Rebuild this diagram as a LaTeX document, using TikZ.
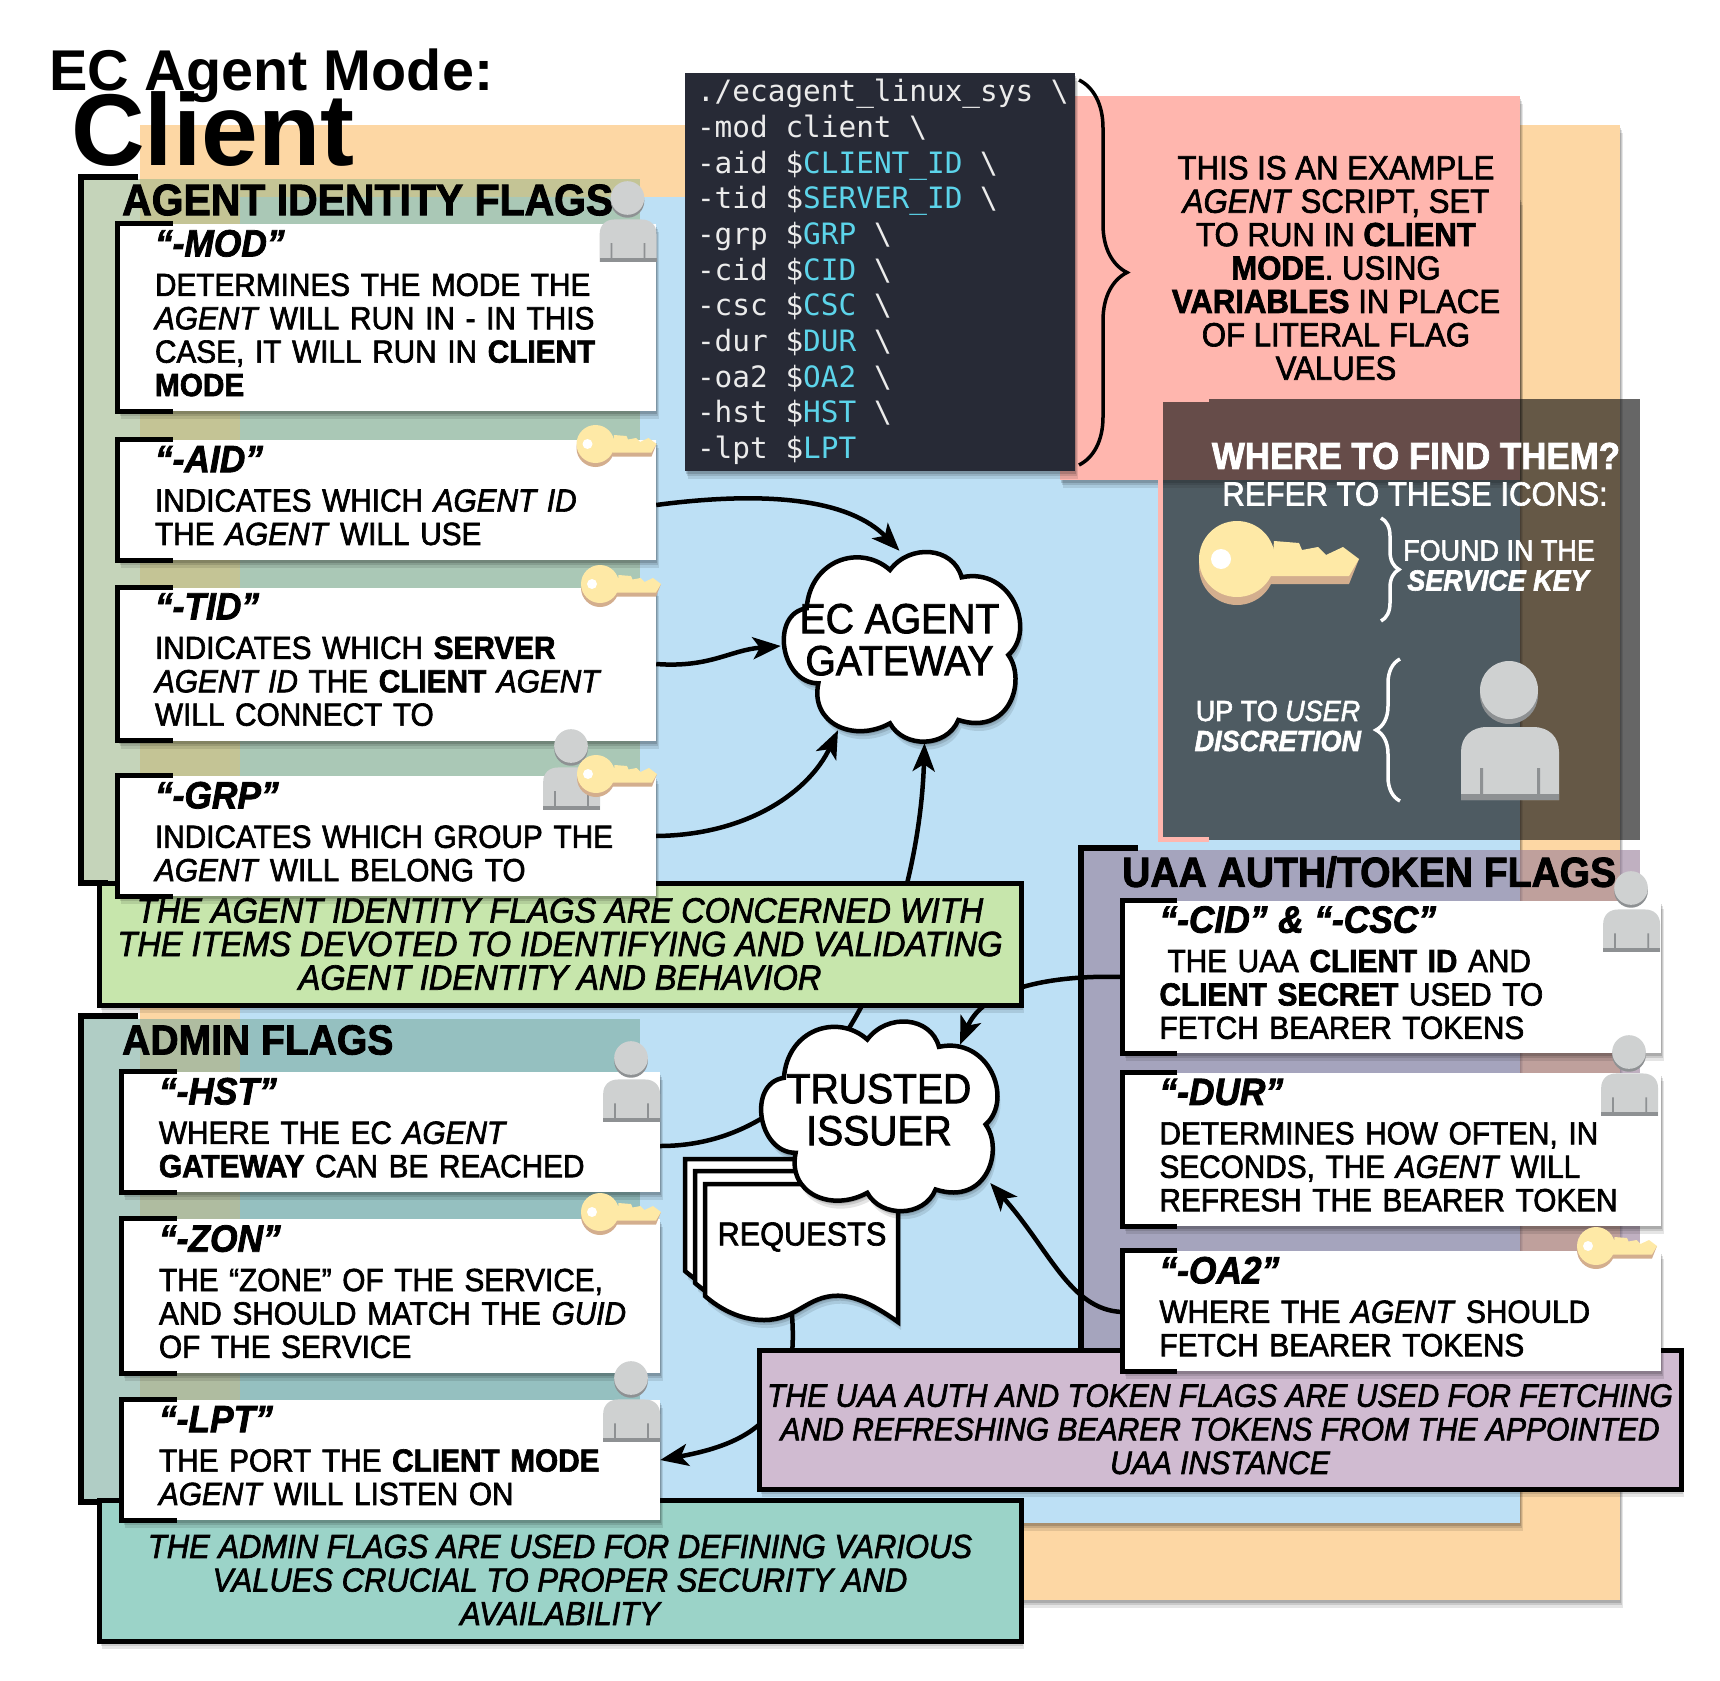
\documentclass[tikz,border=0pt]{standalone}
\usepackage{fontspec}
\usetikzlibrary{calc,arrows.meta,decorations.pathreplacing,shadows}
\newfontfamily\titlefont{Liberation Sans}
\newfontfamily\comicfont[FakeStretch=0.93,FakeBold=2]{Liberation Sans}
\newfontfamily\codefont{DejaVu Sans Mono}
\definecolor{orangebg}{HTML}{FDD7A4}
\definecolor{bluebg}{HTML}{BDE0F5}
\definecolor{pinkbg}{HTML}{FFB6AE}
\definecolor{codebg}{HTML}{272A36}
\definecolor{codecyan}{HTML}{5CD4EA}
\definecolor{agentfill}{HTML}{9EB88C}
\definecolor{adminfill}{HTML}{7BAB9E}
\definecolor{uaafill}{HTML}{967C98}
\definecolor{agentnote}{HTML}{C7E6AC}
\definecolor{adminnote}{HTML}{9BD3C8}
\definecolor{uaanote}{HTML}{D0BBD1}
\definecolor{keyface}{HTML}{FEE9A6}
\definecolor{keyside}{HTML}{D3AE8E}
\definecolor{userface}{HTML}{CFD1D1}
\definecolor{userside}{HTML}{8E9193}
\pgfdeclarelayer{panels}
\pgfdeclarelayer{wires}
\pgfsetlayers{panels,wires,main}
\tikzset{softshadow/.style={drop shadow={shadow xshift=3pt,shadow yshift=-8pt,opacity=0.1,fill=black},drop shadow={shadow xshift=2pt,shadow yshift=-5pt,opacity=0.12,fill=black},drop shadow={shadow xshift=1pt,shadow yshift=-3pt,opacity=0.15,fill=black}}}
\tikzstyle{flagbox} = [rectangle, fill=white, minimum width=538pt, text width=538pt, inner sep=0pt, align=left, softshadow,
font=\comicfont\fontsize{32}{33.4}\selectfont, execute at begin node={\leftskip=37pt}, execute at end node={\rule[-9pt]{0pt}{1pt}}]
\tikzstyle{notebox} = [rectangle, draw=black, line width=5pt, minimum width=922pt, align=center, softshadow]
\tikzstyle{panel} = [rectangle, inner sep=0pt, fill opacity=0.6]
\tikzstyle{panelhead} = [anchor=west, inner sep=0pt, font=\comicfont\bfseries\fontsize{42}{42}\selectfont]
\tikzstyle{bubble} = [rectangle, inner sep=0pt, align=center, font=\comicfont\fontsize{42}{42}\selectfont, execute at end node={\rule[-13pt]{0pt}{1pt}}]
\tikzstyle{arrow} = [line width=4.5pt, ->, >={Stealth[length=28pt,width=22pt,inset=7pt]}]
\tikzstyle{bracket} = [line width=5pt]
\tikzstyle{thickbracket} = [line width=6pt]
\tikzstyle{curly} = [decorate, line width=3.5pt]
\tikzstyle{whitetext} = [text=white, inner sep=0pt, align=center, font=\comicfont\fontsize{29}{29}\selectfont]
\tikzset{
keyicon/.pic={
\fill [keyside] (0,8) circle (38);
\fill [keyside] (37,8) -- (122,0) -- (112,25) -- (34,25) -- cycle;
\fill [keyface] (0,0) circle (38);
\fill [keyface] (37,-18) -- (62,-16) -- (65,-9) -- (81,-12) -- (89,-4) -- (106,-12) -- (122,0) -- (112,17) -- (34,17) -- cycle;
\fill [white] (-16,0) circle (10);
},
usericon/.pic={
\fill [userside] (0,5) circle (29);
\fill [userface] (0,0) circle (29);
\fill [userface] (-48,110) -- (-48,62) .. controls (-48,47) and (-38,37) .. (-22,37) -- (24,37) .. controls (40,37) and (50,47) .. (50,62) -- (50,110) -- cycle;
\fill [userside] (-48,104) rectangle (50,110);
\fill [userside] (-29,78) rectangle (-26,104) (28,78) rectangle (31,104);
},
sheet/.pic={
\draw [fill=white, line width=4.5pt, softshadow] (0,0) -- (193,0) -- (193,138) .. controls (165,118) and (145,110) .. (127,112) .. controls (100,115) and (90,136) .. (59,136) .. controls (35,136) and (15,125) .. (0,112) -- cycle;
},
puffs/.pic={
\draw [fill=white, line width=4.5pt, softshadow] (110,205) .. controls (120,60) and (270,10) .. (360,90) .. controls (420,10) and (550,20) .. (575,112) .. controls (725,80) and (800,270) .. (715,345) .. controls (770,420) and (720,590) .. (565,540) .. controls (530,625) and (400,625) .. (360,550) .. controls (250,610) and (120,550) .. (145,430) .. controls (30,430) and (0,220) .. (110,205) -- cycle;
}}
\newcommand{\flagbracket}[1]{\draw [bracket] ($(#1.north west)+(55,0)$) -- (#1.north west) -- (#1.south west) -- ($(#1.south west)+(55,0)$);}
\newcommand{\flaghead}[1]{{\fontsize{38}{38}\selectfont\bfseries\itshape #1}\\[6pt]}
\newcommand{\ag}[1]{\textit{#1}}
\newcommand{\bd}[1]{\textbf{#1}}
\newcommand{\cy}[1]{\textcolor{codecyan}{#1}}
\begin{document}
\begin{tikzpicture}[x=1pt,y=-1pt]
\useasboundingbox (0,0) rectangle (1720,1680);

\begin{pgfonlayer}{panels}
\node (orange) [rectangle, fill=orangebg, minimum width=1480pt, minimum height=1475pt, softshadow] at (880,862.5) {};
\node (blue) [rectangle, fill=bluebg, minimum width=1280pt, minimum height=1325pt, softshadow] at (880,860) {};
\node (pink) [rectangle, fill=pinkbg, minimum width=460pt, minimum height=384pt, softshadow] at (1290,288) {};
\node (agentpanel) [panel, fill=agentfill, minimum width=557pt, minimum height=704pt] at (361.5,531) {};
\node (adminpanel) [panel, fill=adminfill, minimum width=557pt, minimum height=483pt] at (361.5,1260) {};
\node (uaapanel) [panel, fill=uaafill, minimum width=557pt, minimum height=502pt] at (1361.5,1101) {};
\draw [thickbracket] ($(agentpanel.north west)+(55,-2)$) -- ($(agentpanel.north west)+(-2,-2)$) -- ($(agentpanel.south west)+(-2,0)$) -- ($(agentpanel.south west)+(25,0)$);
\draw [thickbracket] ($(adminpanel.north west)+(55,-2)$) -- ($(adminpanel.north west)+(-2,-2)$) -- ($(adminpanel.south west)+(-2,0)$) -- ($(adminpanel.south west)+(25,0)$);
\draw [thickbracket] ($(uaapanel.north west)+(55,-2)$) -- ($(uaapanel.north west)+(-2,-2)$) -- ($(uaapanel.south west)+(-2,0)$) -- ($(uaapanel.south west)+(45,0)$);
\end{pgfonlayer}

\node (code) [rectangle, fill=codebg, text=white!92!black, minimum width=390pt, minimum height=398pt, text width=390pt, inner sep=0pt, align=left, softshadow,
execute at begin node={\leftskip=12pt\spaceskip=17.7pt\relax},
font=\codefont\fontsize{29.4}{35.7}\selectfont] at (880,272) {./ecagent\_linux\_sys \textbackslash\\
-mod client \textbackslash\\
-aid \$\cy{CLIENT\_ID} \textbackslash\\
-tid \$\cy{SERVER\_ID} \textbackslash\\
-grp \$\cy{GRP} \textbackslash\\
-cid \$\cy{CID} \textbackslash\\
-csc \$\cy{CSC} \textbackslash\\
-dur \$\cy{DUR} \textbackslash\\
-oa2 \$\cy{OA2} \textbackslash\\
-hst \$\cy{HST} \textbackslash\\
-lpt \$\cy{LPT}};
\draw [curly, decoration={brace, amplitude=48pt, aspect=0.5}] (1079,80) -- (1079,465);
\node (scriptnote) [inner sep=0pt, align=center, font=\comicfont\fontsize{33.5}{33.4}\selectfont] at (1336,268) {THIS IS AN EXAMPLE\\
\ag{AGENT} SCRIPT, SET\\
TO RUN IN \bd{CLIENT}\\
\bd{MODE}. USING\\
\bd{VARIABLES} IN PLACE\\
OF LITERAL FLAG\\
VALUES};

\node (agenthead) [panelhead, font=\comicfont\bfseries\fontsize{44}{44}\selectfont] at (122,200) {AGENT IDENTITY FLAGS};
\node (adminhead) [panelhead] at (122,1040) {ADMIN FLAGS};
\node (uaahead) [panelhead] at (1122,872) {UAA AUTH/TOKEN FLAGS};

\node (agentnote) [notebox, fill=agentnote, minimum height=122pt, font=\comicfont\itshape\fontsize{35}{33.6}\selectfont] at (560,944) {THE AGENT IDENTITY FLAGS ARE CONCERNED WITH\\
THE ITEMS DEVOTED TO IDENTIFYING AND VALIDATING\\
AGENT IDENTITY AND BEHAVIOR};
\node (adminnote) [notebox, fill=adminnote, minimum height=141pt, font=\comicfont\itshape\fontsize{33.3}{33.6}\selectfont] at (560,1570.5) {\rule{0pt}{42pt}THE ADMIN FLAGS ARE USED FOR DEFINING VARIOUS\\
VALUES CRUCIAL TO PROPER SECURITY AND\\
AVAILABILITY};
\node (uaanote) [notebox, fill=uaanote, minimum height=139pt, font=\comicfont\itshape\fontsize{32.3}{33.6}\selectfont] at (1220,1419.5) {\rule{0pt}{42pt}THE UAA AUTH AND TOKEN FLAGS ARE USED FOR FETCHING\\
AND REFRESHING BEARER TOKENS FROM THE APPOINTED\\
UAA INSTANCE};

\pic at (685,1159) {sheet};
\pic at (695,1171) {sheet};
\pic at (705,1184) {sheet};
\node (requests) [inner sep=0pt, font=\comicfont\fontsize{33}{33}\selectfont] at (802,1237) {REQUESTS};

\pic [scale=0.3333] at (770,540) {puffs};
\node (gateway) [bubble, minimum width=237pt, minimum height=190pt] at (899.5,646) {\clap{EC AGENT}\\\clap{GATEWAY}};
\pic [scale=0.3333] at (747.3,1009.5) {puffs};
\node (issuer) [bubble, minimum width=236pt, minimum height=188pt] at (879,1116) {\clap{TRUSTED}\\\clap{ISSUER}};

\node (mod) [flagbox, minimum height=187pt] at (387,317.5) {\flaghead{“-MOD”}DETERMINES THE MODE THE\\
\ag{AGENT} WILL RUN IN - IN THIS\\
CASE, IT WILL RUN IN \bd{CLIENT}\\
\bd{MODE}};
\node (aid) [flagbox, below of=mod, node distance=182.5pt, minimum height=120pt] {\flaghead{“-AID”}INDICATES WHICH \ag{AGENT ID}\\
THE \ag{AGENT} WILL USE};
\node (tid) [flagbox, below of=aid, node distance=164pt, minimum height=153pt] {\flaghead{“-TID”}INDICATES WHICH \bd{SERVER}\\
\ag{AGENT ID} THE \bd{CLIENT} \ag{AGENT}\\
WILL CONNECT TO};
\node (grp) [flagbox, below of=tid, node distance=172pt, minimum height=120pt] {\flaghead{“-GRP”}INDICATES WHICH GROUP THE\\
\ag{AGENT} WILL BELONG TO};
\node (hst) [flagbox, minimum height=120pt] at (391,1132) {\flaghead{“-HST”}WHERE THE EC \ag{AGENT}\\
\bd{GATEWAY} CAN BE REACHED};
\node (zon) [flagbox, below of=hst, node distance=164pt, minimum height=154pt] {\flaghead{“-ZON”}THE “ZONE” OF THE SERVICE,\\
AND SHOULD MATCH THE \ag{GUID}\\
OF THE SERVICE};
\node (lpt) [flagbox, below of=zon, node distance=164pt, minimum height=120pt] {\flaghead{“-LPT”}THE PORT THE \bd{CLIENT MODE}\\
\ag{AGENT} WILL LISTEN ON};
\node (cid) [flagbox, minimum height=152pt] at (1391.5,977) {\flaghead{“-CID” \& “-CSC”}\hspace*{8pt}THE UAA \bd{CLIENT ID} AND\\
\bd{CLIENT SECRET} USED TO\\
FETCH BEARER TOKENS};
\node (dur) [flagbox, below of=cid, node distance=172.5pt, minimum height=153pt] {\flaghead{“-DUR”}DETERMINES HOW OFTEN, IN\\
SECONDS, THE \ag{AGENT} WILL\\
REFRESH THE BEARER TOKEN};
\node (oa2) [flagbox, below of=dur, node distance=161.5pt, minimum height=120pt] {\flaghead{“-OA2”}WHERE THE \ag{AGENT} SHOULD\\
FETCH BEARER TOKENS};
\flagbracket{mod}
\flagbracket{aid}
\flagbracket{tid}
\flagbracket{grp}
\flagbracket{hst}
\flagbracket{zon}
\flagbracket{lpt}
\flagbracket{cid}
\flagbracket{dur}
\flagbracket{oa2}

% icons on the flag boxes
\pic [scale=0.58] at (627.5,198) {usericon};
\pic [scale=0.5] at (595.5,444) {keyicon};
\pic [scale=0.5] at (600,584) {keyicon};
\pic [scale=0.58] at (571,746) {usericon};
\pic [scale=0.5] at (596,774) {keyicon};
\pic [scale=0.58] at (631,1058) {usericon};
\pic [scale=0.5] at (600,1212) {keyicon};
\pic [scale=0.58] at (631,1378) {usericon};
\pic [scale=0.58] at (1631,888) {usericon};
\pic [scale=0.58] at (1629,1052) {usericon};
\pic [scale=0.5] at (1596,1246) {keyicon};

\begin{pgfonlayer}{wires}
\draw [arrow] ([yshift=-5pt]aid.east) .. controls (770,490) and (850,500) .. (gateway.north);
\draw [arrow] (tid.east) .. controls (710,668) and (730,650) .. (gateway.west);
\draw [arrow] (grp.east) .. controls (750,835) and (810,790) .. ([xshift=-61.5pt,yshift=11pt]gateway.south);
\draw [arrow] ([yshift=-14pt]hst.east) .. controls (850,1146) and (920,900) .. ([xshift=25pt,yshift=-2pt]gateway.south);
\draw [arrow] (cid.west) .. controls (1060,975) and (985,985) .. ([xshift=81pt,yshift=-23pt]issuer.north);
\draw [arrow] ([yshift=-1pt]oa2.west) .. controls (1070,1310) and (1050,1250) .. ([xshift=-7pt,yshift=-67pt]issuer.east);
\draw [arrow] ([xshift=-20pt]requests.south) .. controls (815,1400) and (770,1440) .. (lpt.east);
\end{pgfonlayer}

% legend on top of everything
\node (legend) [rectangle, fill=black!92, fill opacity=0.65, minimum width=481pt, minimum height=441pt] at (1399.5,619.5) {};
\draw [bracket, pinkbg] ($(legend.north west)+(50,1)$) -- ($(legend.north west)+(2,1)$) -- ($(legend.south west)+(2,-1)$) -- ($(legend.south west)+(50,-1)$);
\node (findhead) [whitetext, font=\comicfont\bfseries\fontsize{37.5}{37}\selectfont] at (1416,456) {WHERE TO FIND THEM?};
\node (findsub) [whitetext, font=\comicfont\fontsize{33.5}{34}\selectfont] at (1415,494) {REFER TO THESE ICONS:};
\pic at (1237,559) {keyicon};
\draw [curly, decoration={brace, amplitude=18pt, aspect=0.5}, white] (1381,518) -- (1381,621);
\node (keytext) [whitetext] at (1499,565.5) {FOUND IN THE\\[1pt]\textbf{\textit{SERVICE KEY}}};
\pic at (1509,690) {usericon};
\draw [curly, decoration={brace, amplitude=24pt, aspect=0.5}, white] (1400,801) -- (1400,659);
\node (usertext) [whitetext] at (1278,726) {UP TO \textit{USER}\\[1pt]\textbf{\textit{DISCRETION}}};

\node (modetitle) [anchor=base west, inner sep=0pt, font=\titlefont\bfseries\fontsize{57.5}{57}\selectfont] at (49,91) {EC Agent Mode:};
\node (clienttitle) [anchor=base west, inner sep=0pt, font=\titlefont\bfseries\fontsize{102}{102}\selectfont] at (71,166) {Client};
\end{tikzpicture}
\end{document}
